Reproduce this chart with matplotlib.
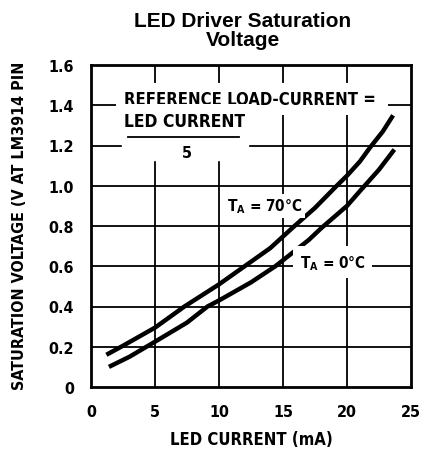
import matplotlib
matplotlib.use('Agg')
import matplotlib.pyplot as plt
from matplotlib import font_manager

# Curve data (LED current mA, saturation voltage V)
i_70 = [1.2, 2.5, 5, 7.3, 10, 12, 14, 15.9, 17.5, 19.2, 20, 21, 21.8, 22.8, 23.6]
v_70 = [0.16, 0.205, 0.295, 0.40, 0.51, 0.60, 0.69, 0.80, 0.89, 1.00, 1.05, 1.12, 1.19, 1.27, 1.35]
i_0 = [1.4, 3, 5, 7.5, 9.1, 10, 12.5, 14.4, 15, 17, 18, 20, 21.1, 22.5, 23.7]
v_0 = [0.10, 0.15, 0.225, 0.32, 0.40, 0.43, 0.52, 0.60, 0.63, 0.73, 0.79, 0.90, 0.98, 1.08, 1.18]

x_ticks = [0, 5, 10, 15, 20, 25]
y_ticks = [0, 0.2, 0.4, 0.6, 0.8, 1.0, 1.2, 1.4, 1.6]
y_labels = ['0', '0.2', '0.4', '0.6', '0.8', '1.0', '1.2', '1.4', '1.6']

names = {f.name for f in font_manager.fontManager.ttflist}
narrow = 'Liberation Sans Narrow' if 'Liberation Sans Narrow' in names else 'DejaVu Sans'
cond = dict(family=[narrow, 'DejaVu Sans'], weight='bold', stretch='condensed')

fig = plt.figure(figsize=(4.24, 4.52), dpi=100)
ax = fig.add_axes([91 / 424, 1 - 388 / 452, 320 / 424, 322 / 452])
ax.set_xlim(0, 25)
ax.set_ylim(0, 1.6)

# grid
for x in x_ticks[1:-1]:
    ax.axvline(x, color='black', lw=1.3, zorder=1)
for y in y_ticks[1:-1]:
    ax.axhline(y, color='black', lw=1.3, zorder=1)

ax.plot(i_70, v_70, color='black', lw=3.2, solid_capstyle='butt', zorder=3)
ax.plot(i_0, v_0, color='black', lw=3.2, solid_capstyle='butt', zorder=3)

for s in ax.spines.values():
    s.set_linewidth(2)

ax.set_xticks(x_ticks)
ax.set_yticks(y_ticks)
ax.set_xticklabels([str(t) for t in x_ticks], fontsize=11.5, **cond)
ax.set_yticklabels(y_labels, fontsize=11.5, **cond)
ax.tick_params(length=0, pad=12)

# annotations with white backgrounds that break the grid
ax.text(2.6, 1.43, 'REFERENCE LOAD-CURRENT = ', fontsize=12, va='center',
        ha='left', bbox=dict(facecolor='white', edgecolor='none', pad=5), zorder=4, **cond)
ax.text(2.6, 1.32, 'LED CURRENT', fontsize=12.5, va='center', ha='left',
        bbox=dict(facecolor='white', edgecolor='none', pad=6), zorder=4, **cond)
ax.plot([2.9, 11.6], [1.24, 1.24], color='black', lw=1.3, zorder=5)
ax.text(7.5, 1.165, '5', fontsize=11.5, va='center', ha='center',
        bbox=dict(facecolor='white', edgecolor='none', pad=3), zorder=4, **cond)
ax.fill_between([2.4, 12.3], 1.13, 1.23, color='white', zorder=2)

ax.text(10.6, 0.90, r'T$_\mathregular{A}$ = 70°C', fontsize=11, va='center',
        ha='left', bbox=dict(facecolor='white', edgecolor='none', pad=2), zorder=4, **cond)
ax.text(16.3, 0.62, r'T$_\mathregular{A}$ = 0°C', fontsize=11, va='center',
        ha='left', bbox=dict(facecolor='white', edgecolor='none', pad=5), zorder=4, **cond)

fig.text(243 / 424, 1 - 31 / 452, 'LED Driver Saturation\nVoltage', ha='center',
         va='center', fontsize=15, fontweight='bold', family='Liberation Sans',
         linespacing=0.95)
fig.text(251 / 424, 1 - 440 / 452, 'LED CURRENT (mA)', ha='center', va='center',
         fontsize=12, **cond)
fig.text(20 / 424, 1 - 226 / 452, 'SATURATION VOLTAGE (V AT LM3914 PIN', ha='center',
         va='center', rotation=90, fontsize=11.5, **cond)

fig.savefig('out.png', dpi=100)
